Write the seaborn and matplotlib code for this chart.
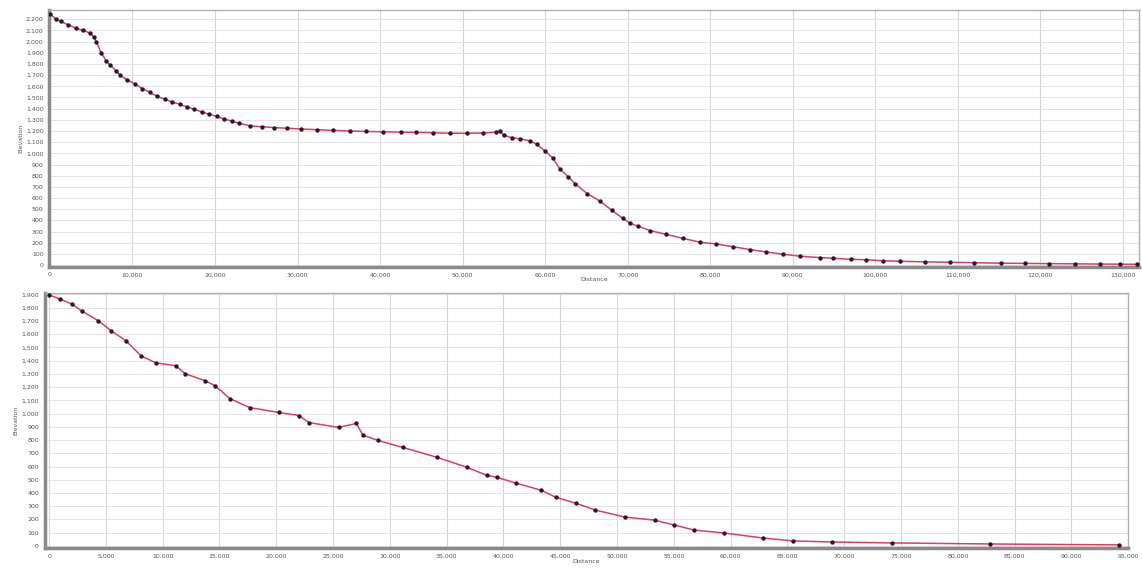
import numpy as np
import pandas as pd
import matplotlib
matplotlib.use("Agg")
import matplotlib.pyplot as plt
from matplotlib.ticker import MultipleLocator, FuncFormatter
import seaborn as sns

# perfil 1 (distancia, elevacao)
dist_1 = [0, 700, 1300, 2200, 3100, 4000, 4900, 5300, 5600, 6200, 6800, 7300, 8000, 8500,
          9300, 10300, 11200, 12100, 13000, 13900, 14800, 15700, 16600, 17500, 18400, 19300,
          20200, 21100, 22000, 22900, 24300, 25700, 27200, 28700, 30400, 32300, 34300, 36400,
          38300, 40400, 42500, 44400, 46400, 48500, 50500, 52500, 54000, 54500, 55000, 56000,
          57000, 58200, 59000, 60000, 60900, 61800, 62800, 63600, 65100, 66700, 68100, 69400,
          70300, 71200, 72700, 74700, 76700, 78800, 80700, 82800, 84800, 86800, 88800, 90900,
          93300, 94900, 97000, 98900, 100900, 103000, 106000, 109000, 112000, 115200, 118100,
          121100, 124200, 127200, 129700, 131700]
elev_1 = [2250, 2200, 2180, 2150, 2120, 2100, 2075, 2040, 2000, 1900, 1830, 1790, 1740, 1700,
          1660, 1620, 1580, 1545, 1510, 1485, 1460, 1440, 1415, 1395, 1370, 1350,
          1330, 1307, 1290, 1270, 1245, 1238, 1230, 1225, 1218, 1212, 1205, 1200,
          1196, 1193, 1190, 1188, 1184, 1180, 1180, 1182, 1190, 1200, 1160, 1140,
          1130, 1110, 1080, 1020, 960, 860, 790, 730, 640, 570, 490, 420,
          375, 350, 310, 275, 240, 205, 190, 165, 140, 118, 98, 80,
          68, 62, 53, 48, 40, 35, 30, 26, 22, 18, 16,
          14, 12, 10, 9, 8]

# perfil 2
dist_2 = [0, 960, 2000, 2870, 4350, 5480, 6780, 8090, 9390, 11130, 12000, 13740, 14610, 15910,
          17650, 20260, 22000, 22870, 25480, 27040, 27650, 28960, 31130, 34170, 36780, 38520,
          39390, 41130, 43300, 44610, 46350, 48090, 50700, 53300, 55040, 56780, 59390, 62870,
          65480, 68960, 74170, 82870, 94170]
elev_2 = [1895, 1865, 1827, 1775, 1700, 1624, 1549, 1436, 1383, 1361, 1300, 1248, 1210, 1113,
          1045, 1008, 985, 932, 895, 925, 835, 797, 744, 669, 594, 534,
          519, 474, 421, 368, 323, 271, 218, 195, 158, 120, 98, 60,
          38, 30, 23, 15, 8]

perfil_1 = pd.DataFrame({"Distance": dist_1, "Elevation": elev_1})
perfil_2 = pd.DataFrame({"Distance": dist_2, "Elevation": elev_2})

sns.set_style("white")
plt.rcParams["font.family"] = ["DejaVu Sans"]

fig = plt.figure(figsize=(11.42, 5.69), dpi=100)
ax1 = fig.add_axes([0.043, 0.531, 0.954, 0.451])
ax2 = fig.add_axes([0.039, 0.037, 0.949, 0.448])

fmt = FuncFormatter(lambda v, p: f"{int(v):,}")


def desenha(ax, dados, xmin, xmax, ymax, xpasso, ymaj):
    sns.lineplot(data=dados, x="Distance", y="Elevation", ax=ax,
                 color="#d9405e", linewidth=1.1, zorder=3)
    sns.scatterplot(data=dados, x="Distance", y="Elevation", ax=ax,
                    color="#2e1434", s=10, linewidth=0, zorder=4)
    ax.set_xlim(xmin, xmax)
    ax.set_ylim(-15, ymax)
    ax.xaxis.set_major_locator(MultipleLocator(xpasso))
    ax.yaxis.set_major_locator(MultipleLocator(ymaj))
    ax.xaxis.set_major_formatter(fmt)
    ax.yaxis.set_major_formatter(fmt)
    ax.grid(True, axis="x", color="#d6d6d6", linewidth=0.8)
    ax.grid(True, axis="y", color="#e4e4e4", linewidth=0.7)
    ax.set_axisbelow(True)
    ax.tick_params(labelsize=4.5, colors="#555555", length=0, pad=4)
    ax.set_xlabel("Distance", fontsize=4.5, color="#555555", labelpad=0)
    ax.set_ylabel("Elevation", fontsize=4.5, color="#555555", labelpad=2)
    for lado in ["left", "bottom"]:
        ax.spines[lado].set_color("#8a8a8a")
        ax.spines[lado].set_linewidth(2.5)
    for lado in ["top", "right"]:
        ax.spines[lado].set_color("#b0b0b0")
        ax.spines[lado].set_linewidth(1.0)


desenha(ax1, perfil_1, -100, 131900, 2280, 10000, 100)
desenha(ax2, perfil_2, -400, 95000, 1910, 5000, 100)

fig.savefig("out.png", dpi=100, facecolor="white")
